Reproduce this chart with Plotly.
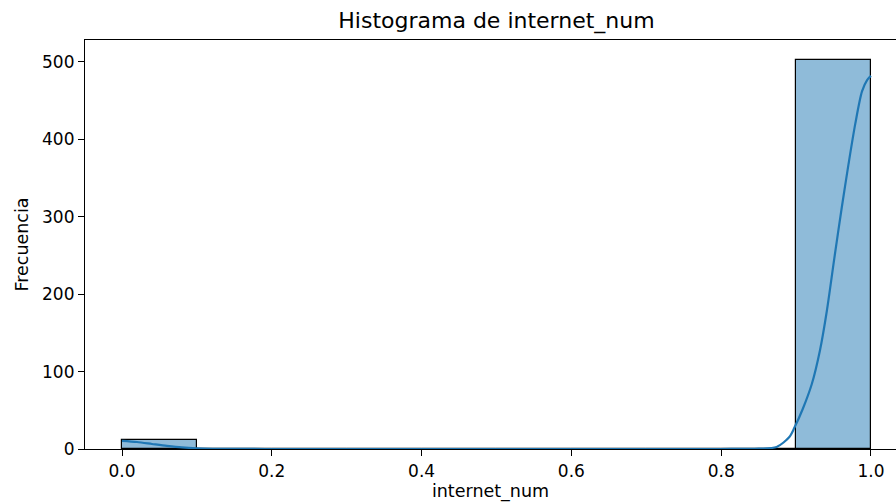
import plotly.graph_objects as go

# Histogram bins (left edges) and counts
bin_left = [0.0, 0.1, 0.2, 0.3, 0.4, 0.5, 0.6, 0.7, 0.8, 0.9]
bin_width = 0.1
counts = [11, 0, 0, 0, 0, 0, 0, 0, 0, 503]

# KDE curve points
kde_x = [0.0, 0.02, 0.04, 0.06, 0.08, 0.1, 0.15, 0.2, 0.4, 0.6, 0.8, 0.85, 0.874,
         0.891, 0.898, 0.909, 0.921, 0.932, 0.941, 0.951, 0.961, 0.970, 0.979,
         0.988, 0.995, 1.0]
kde_y = [10.5, 9.0, 6.5, 4.0, 2.0, 1.0, 0.1, 0.0, 0.0, 0.0, 0.0, 0.5, 2.6,
         15.5, 28, 52, 84, 128, 178, 246, 312, 368, 420,
         462, 477, 482]

yticks = [0, 100, 200, 300, 400, 500]
xticks = [0.0, 0.2, 0.4, 0.6, 0.8, 1.0]
xtick_labels = ["0.0", "0.2", "0.4", "0.6", "0.8", "1.0"]

font_family = "DejaVu Sans"

fig = go.Figure()
fig.add_trace(go.Bar(
    x=[b + bin_width / 2 for b in bin_left],
    y=counts,
    width=[bin_width] * len(bin_left),
    marker=dict(color="rgba(31,119,180,0.5)", line=dict(color="black", width=1.2)),
    showlegend=False,
    hoverinfo="skip",
))
fig.add_trace(go.Scatter(
    x=kde_x, y=kde_y, mode="lines",
    line=dict(color="#1f77b4", width=2.2, shape="spline", smoothing=0.8),
    showlegend=False,
))

fig.update_layout(
    width=896, height=504,
    margin=dict(l=85, r=0, t=40, b=55, autoexpand=False),
    paper_bgcolor="white", plot_bgcolor="white",
    font=dict(family=font_family, color="black", size=17),
    title=dict(text="Histograma de internet_num", x=(85 + 908) / 2 / 896, xanchor="center",
               y=1 - 20 / 504, yanchor="middle", font=dict(size=22, color="black")),
    bargap=0,
)
fig.update_xaxes(
    range=[-0.0494, 1.0334],
    tickvals=xticks, ticktext=xtick_labels,
    ticks="outside", ticklen=6, tickwidth=1.2, tickcolor="black",
    showline=True, linecolor="black", linewidth=1.2, mirror=True,
    showgrid=False, zeroline=False, automargin=False,
    tickfont=dict(size=17),
    title=dict(text="internet_num", font=dict(size=17.5), standoff=3),
)
fig.update_yaxes(
    range=[0, 528.4],
    tickvals=yticks,
    ticks="outside", ticklen=6, tickwidth=1.2, tickcolor="black",
    showline=True, linecolor="black", linewidth=1.2,
    showgrid=False, zeroline=False, automargin=False,
    tickfont=dict(size=17),
    title=dict(text="Frecuencia", font=dict(size=17.5), standoff=8),
)

fig.write_html(
    "out.html",
    config={"displayModeBar": False},
    post_script="document.body.style.margin='0';document.body.style.overflow='hidden';",
)
